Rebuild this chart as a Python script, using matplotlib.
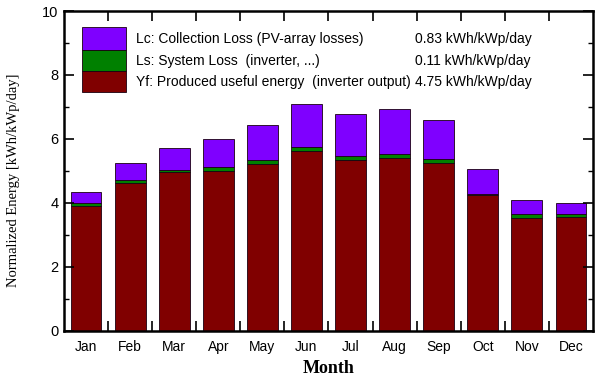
import matplotlib
matplotlib.use("Agg")
import matplotlib.pyplot as plt
from matplotlib.patches import Rectangle
from matplotlib.ticker import FixedLocator, MultipleLocator
import numpy as np

months = ["Jan", "Feb", "Mar", "Apr", "May", "Jun", "Jul", "Aug", "Sep", "Oct", "Nov", "Dec"]
# Produced useful energy Yf (kWh/kWp/day)
yf = [3.90, 4.62, 4.95, 5.00, 5.22, 5.62, 5.34, 5.41, 5.26, 4.23, 3.54, 3.56]
# System loss Ls
ls = [0.08, 0.09, 0.09, 0.12, 0.11, 0.13, 0.13, 0.13, 0.11, 0.06, 0.10, 0.08]
# Collection loss Lc
lc = [0.37, 0.54, 0.68, 0.88, 1.09, 1.34, 1.31, 1.39, 1.23, 0.76, 0.44, 0.36]

legend_labels = ["Lc: Collection Loss (PV-array losses)",
                 "Ls: System Loss  (inverter, ...)",
                 "Yf: Produced useful energy  (inverter output)"]
legend_values = ["0.83 kWh/kWp/day", "0.11 kWh/kWp/day", "4.75 kWh/kWp/day"]

c_lc = "#7f00ff"
c_ls = "#008000"
c_yf = "#800000"

plt.rcParams["font.family"] = ["Liberation Sans", "DejaVu Sans"]

fig = plt.figure(figsize=(5.95, 3.77), dpi=100)
ax = fig.add_axes([0.1076, 0.1228, 0.8890, 0.8480])

x = np.arange(1, len(months) + 1)
w = 0.7
yf_a = np.array(yf)
ls_a = np.array(ls)
lc_a = np.array(lc)
kw = dict(width=w, edgecolor="#1a0010", linewidth=0.6)
ax.bar(x, yf_a, color=c_yf, **kw)
ax.bar(x, ls_a, bottom=yf_a, color=c_ls, **kw)
ax.bar(x, lc_a, bottom=yf_a + ls_a, color=c_lc, **kw)

ax.set_xlim(0.5, 12.5)
ax.set_ylim(0, 10)

ax.set_xticks(x)
ax.set_xticklabels(months, fontsize=10)
ax.xaxis.set_minor_locator(FixedLocator(np.arange(1.5, 12.5, 1)))
ax.tick_params(axis="x", which="major", length=0, pad=7)
ax.tick_params(axis="x", which="minor", direction="in", length=7, width=1.2,
               top=True, bottom=True)

ax.yaxis.set_major_locator(MultipleLocator(2))
ax.yaxis.set_minor_locator(MultipleLocator(1))
ax.tick_params(axis="y", which="major", direction="in", length=7, width=1.2,
               left=True, right=True, labelsize=10.5, pad=4)
ax.tick_params(axis="y", which="minor", direction="in", length=3.5, width=1.0,
               left=True, right=True)

for s in ax.spines.values():
    s.set_linewidth(1.8)

ax.set_xlabel("Month", fontsize=13, fontweight="bold",
              family=["Liberation Serif"], labelpad=4)
ax.set_ylabel("Normalized Energy [kWh/kWp/day]", fontsize=10.5,
              family=["Liberation Serif"])
ax.yaxis.set_label_coords(-0.083, 0.472)

# Legend drawn as a stacked colour key with values on the right
bx0, bx1 = 0.034, 0.117
rows = [(0.878, 0.950, c_lc), (0.812, 0.878, c_ls), (0.747, 0.812, c_yf)]
for (y0, y1, c) in rows:
    ax.add_patch(Rectangle((bx0, y0), bx1 - bx0, y1 - y0, transform=ax.transAxes,
                           facecolor=c, edgecolor="#1a0010", linewidth=0.6, zorder=5))
for (y0, y1, c), lab, val in zip(rows, legend_labels, legend_values):
    yc = (y0 + y1) / 2
    ax.text(0.136, yc, lab, transform=ax.transAxes, fontsize=10,
            va="center", ha="left")
    ax.text(0.664, yc, val, transform=ax.transAxes, fontsize=10,
            va="center", ha="left")

fig.savefig("out.png", dpi=100)
